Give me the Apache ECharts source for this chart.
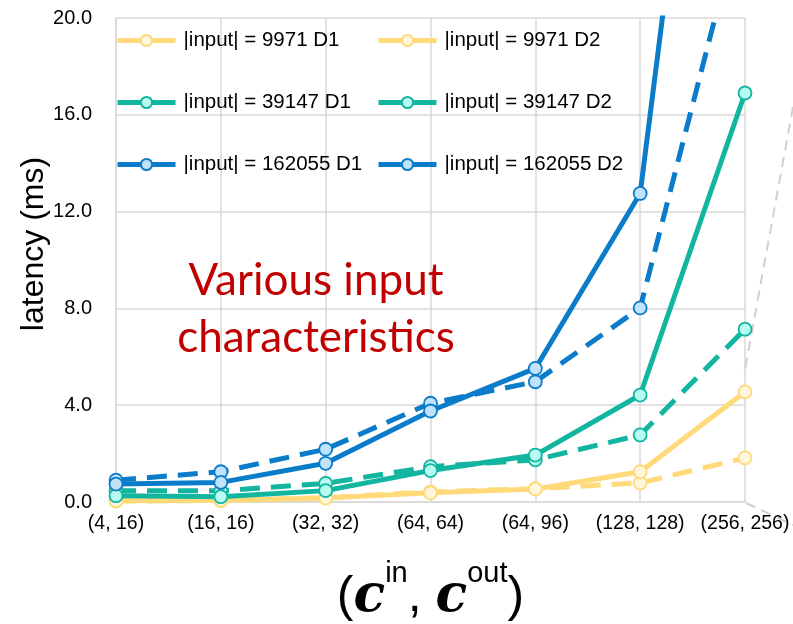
<!DOCTYPE html>
<html>
<head>
<meta charset="utf-8">
<script src="https://cdn.jsdelivr.net/npm/echarts@6/dist/echarts.min.js"></script>
<style>html,body{margin:0;padding:0;background:#fff;}#c{width:793px;height:624px;}</style>
</head>
<body>
<div id="c"></div>
<script>
const categories = ['(4, 16)', '(16, 16)', '(32, 32)', '(64, 64)', '(64, 96)', '(128, 128)', '(256, 256)'];
const yTicks = [0, 4, 8, 12, 16, 20];
const s9971D1 = [0.04, 0.06, 0.18, 0.42, 0.55, 0.79, 1.82];
const s9971D2 = [0.05, 0.07, 0.16, 0.38, 0.54, 1.25, 4.55];
const s39147D1 = [0.47, 0.46, 0.77, 1.46, 1.74, 2.77, 7.14];
const s39147D2 = [0.26, 0.22, 0.47, 1.30, 1.94, 4.42, 16.9];
const s162055D1 = [0.90, 1.25, 2.18, 4.08, 4.97, 8.02, 24.8];
const s162055D2 = [0.74, 0.81, 1.60, 3.76, 5.52, 12.75, 47.0];

const YEL = '#FFD97A', TEAL = '#12B5A0', BLUE = '#0B7CC9';
const YEL_F = '#FFF6DE', TEAL_F = '#B8FCF1', BLUE_F = '#C0E2FB';

function mk(name, data, color, fill, dashed) {
  return {
    name: name, type: 'line', data: data,
    symbol: 'circle', symbolSize: 13,
    lineStyle: { color: color, width: 5, type: dashed ? [20, 11] : 'solid' },
    itemStyle: { color: fill, borderColor: color, borderWidth: 1.8 },
    emphasis: { disabled: true },
    clip: true, animation: false
  };
}

const chart = echarts.init(document.getElementById('c'), null, { renderer: 'canvas' });
const legendCommon = {
  orient: 'vertical', top: 30, padding: 0, itemGap: 41, itemWidth: 58, itemHeight: 14,
  lineStyle: { type: 'solid', width: 5 },
  textStyle: { fontFamily: 'Liberation Sans', fontSize: 20.5, color: '#000', lineHeight: 20, padding: [0, 0, 0, 3] }
};
chart.setOption({
  animation: false,
  backgroundColor: '#fff',
  grid: { left: 116, right: 48, top: 18, bottom: 122, containLabel: false, outerBoundsMode: 'none' },
  legend: [
    Object.assign({}, legendCommon, { left: 115, data: ['|input| = 9971 D1', '|input| = 39147 D1', '|input| = 162055 D1'] }),
    Object.assign({}, legendCommon, { left: 376, data: ['|input| = 9971 D2', '|input| = 39147 D2', '|input| = 162055 D2'] })
  ],
  xAxis: {
    type: 'category', data: categories, boundaryGap: false,
    axisLine: { lineStyle: { color: '#D9D9D9', width: 1.5 } },
    axisTick: { show: false },
    splitLine: { show: true, lineStyle: { color: '#D9D9D9', width: 1.5 } },
    axisLabel: { color: '#000', fontFamily: 'Liberation Sans', fontSize: 19.5, margin: 12, interval: 0, hideOverlap: false },
    name: '{p|(}{c|c}{s|in}{p|, }{c|c}{s|out}{p|)}',
    nameLocation: 'middle', nameGap: 57, nameMoveOverlap: false,
    nameTextStyle: {
      rich: {
        p: { fontFamily: 'Liberation Sans', fontSize: 50, color: '#000', lineHeight: 76 },
        c: { fontFamily: 'DejaVu Serif', fontSize: 52, fontWeight: 'bold', fontStyle: 'italic', color: '#000', lineHeight: 76 },
        s: { fontFamily: 'Liberation Sans', fontSize: 29, color: '#000', lineHeight: 26, verticalAlign: 'top' }
      }
    }
  },
  yAxis: {
    type: 'value', min: yTicks[0], max: yTicks[yTicks.length - 1], interval: yTicks[1] - yTicks[0],
    axisLine: { show: true, lineStyle: { color: '#D9D9D9', width: 1.5 } },
    axisTick: { show: false },
    splitLine: { show: true, lineStyle: { color: '#D9D9D9', width: 1.5 } },
    axisLabel: { color: '#000', fontFamily: 'Liberation Sans', fontSize: 20, margin: 24, formatter: v => v.toFixed(1) },
    name: 'latency (ms)', nameLocation: 'middle', nameGap: 66, nameMoveOverlap: false,
    nameTextStyle: { fontFamily: 'Liberation Sans', fontSize: 32, color: '#000', padding: [0, 0, 0, 32] }
  },
  graphic: [
    {
      type: 'text', x: 316, y: 309,
      style: {
        text: 'Various input\ncharacteristics', fill: '#C00000', fontFamily: 'Lato', fontSize: 44,
        lineHeight: 57, align: 'center', verticalAlign: 'middle'
      }, z: 100
    },
    { type: 'polyline', shape: { points: [[793, 107], [744, 375]] }, style: { stroke: '#D0D0D0', lineWidth: 2, lineDash: [10, 7], fill: null }, z: 1 },
    { type: 'polyline', shape: { points: [[746, 503], [793, 525]] }, style: { stroke: '#D0D0D0', lineWidth: 2, lineDash: [10, 7], fill: null }, z: 1 }
  ],
  series: [
    mk('|input| = 9971 D1', s9971D1, YEL, YEL_F, true),
    mk('|input| = 9971 D2', s9971D2, YEL, YEL_F, false),
    mk('|input| = 39147 D1', s39147D1, TEAL, TEAL_F, true),
    mk('|input| = 39147 D2', s39147D2, TEAL, TEAL_F, false),
    mk('|input| = 162055 D1', s162055D1, BLUE, BLUE_F, true),
    mk('|input| = 162055 D2', s162055D2, BLUE, BLUE_F, false)
  ]
});
</script>
</body>
</html>
